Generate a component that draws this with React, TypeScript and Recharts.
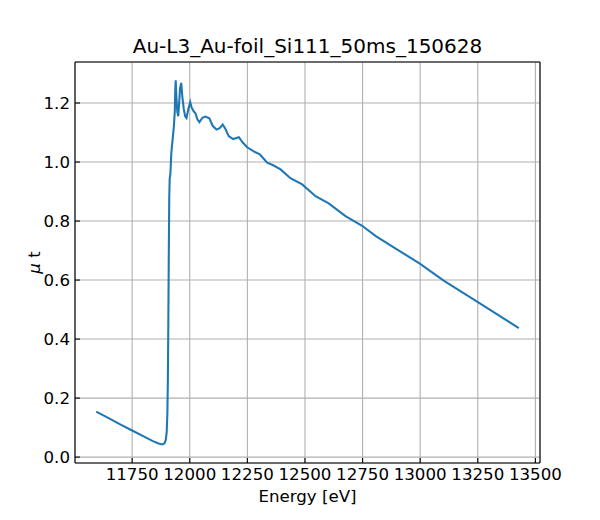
import { CartesianGrid, Line, LineChart, XAxis, YAxis } from "recharts";

const TITLE = "Au-L3_Au-foil_Si111_50ms_150628";

const energy = [
  11594, 11650, 11700, 11750, 11800, 11840, 11865, 11880, 11890, 11896, 11900, 11903, 11905, 11907,
  11909, 11911, 11913, 11916, 11920, 11926, 11931, 11935, 11937, 11939, 11942, 11946, 11950, 11954,
  11958, 11963, 11968, 11974, 11980, 11986, 11994, 12002, 12008, 12017, 12025, 12033, 12042, 12055,
  12068, 12085, 12100, 12116, 12130, 12143, 12155, 12169, 12188, 12213, 12230, 12249, 12278, 12304,
  12320, 12336, 12360, 12394, 12437, 12488, 12546, 12603, 12676, 12748, 12806, 12885, 13000, 13102,
  13247, 13428,
];

const mu = [
  0.154, 0.131, 0.11, 0.09, 0.07, 0.054, 0.046, 0.043, 0.046, 0.058, 0.085, 0.15, 0.26, 0.45,
  0.68, 0.88, 0.945, 0.96, 1.03, 1.08, 1.12, 1.17, 1.24, 1.277, 1.22, 1.17, 1.155, 1.2,
  1.25, 1.268, 1.22, 1.18, 1.155, 1.149, 1.18, 1.203, 1.185, 1.172, 1.165, 1.145, 1.135, 1.15,
  1.154, 1.148, 1.122, 1.11, 1.115, 1.127, 1.112, 1.088, 1.078, 1.084, 1.066, 1.05, 1.036, 1.026,
  1.012, 0.998, 0.99, 0.975, 0.945, 0.924, 0.884, 0.86, 0.817, 0.784, 0.75, 0.711, 0.655, 0.598,
  0.527, 0.437,
];

const xTicks = [11750, 12000, 12250, 12500, 12750, 13000, 13250, 13500];
const yTicks = [0, 0.2, 0.4, 0.6, 0.8, 1.0, 1.2];

const X_DOMAIN: [number, number] = [11502, 13520];
const Y_DOMAIN: [number, number] = [-0.02, 1.339];

const LINE_COLOR = "#1f77b4";
const FONT = "'DejaVu Sans', sans-serif";
const SPINE = { stroke: "#000", strokeWidth: 1.1 };
const tickStyle = { fontSize: 16.67, fill: "#000", fontFamily: FONT };

const data = energy.map((e, i) => ({ energy: e, mu: mu[i] }));

function YLabel({ viewBox }: { viewBox?: { x: number; y: number; width: number; height: number } }) {
  if (!viewBox) return null;
  const cx = viewBox.x + 24;
  const cy = viewBox.y + viewBox.height / 2;
  return (
    <text
      x={cx}
      y={cy}
      transform={`rotate(-90, ${cx}, ${cy})`}
      textAnchor="middle"
      dominantBaseline="central"
      fontSize={16.67}
      fontFamily={FONT}
      fill="#000"
    >
      <tspan fontStyle="italic">μ</tspan> t
    </text>
  );
}

export default function App() {
  return (
    <div style={{ position: "absolute", left: 0, top: 0, width: 600, height: 520, background: "#fff" }}>
      <LineChart
        width={600}
        height={520}
        data={data}
        margin={{ top: 61, right: 59, bottom: 27, left: 10 }}
      >
        <CartesianGrid stroke="#b0b0b0" strokeWidth={1.1} />
        <XAxis
          dataKey="energy"
          type="number"
          domain={X_DOMAIN}
          ticks={xTicks}
          allowDataOverflow
          height={30}
          tickSize={-5}
          tickMargin={10}
          tick={tickStyle}
          axisLine={SPINE}
          tickLine={SPINE}
          label={{ value: "Energy [eV]", position: "bottom", offset: -3, fontSize: 16.67, fontFamily: FONT, fill: "#000" }}
        />
        <XAxis
          xAxisId="top"
          dataKey="energy"
          orientation="top"
          type="number"
          domain={X_DOMAIN}
          ticks={xTicks}
          allowDataOverflow
          height={1}
          tick={false}
          tickLine={false}
          axisLine={SPINE}
          label={{ value: TITLE, position: "top", offset: 8, fontSize: 20, fontFamily: FONT, fill: "#000" }}
        />
        <YAxis
          type="number"
          domain={Y_DOMAIN}
          ticks={yTicks}
          allowDataOverflow
          width={65}
          tickSize={-5}
          tickMargin={10}
          tick={tickStyle}
          tickFormatter={(v: number) => v.toFixed(1)}
          axisLine={SPINE}
          tickLine={SPINE}
          label={<YLabel />}
        />
        <YAxis
          yAxisId="right"
          orientation="right"
          type="number"
          domain={Y_DOMAIN}
          ticks={yTicks}
          allowDataOverflow
          width={1}
          tick={false}
          tickLine={false}
          axisLine={SPINE}
        />
        <Line
          xAxisId="top"
          yAxisId="right"
          type="linear"
          dataKey="mu"
          stroke="none"
          dot={false}
          activeDot={false}
          legendType="none"
          isAnimationActive={false}
        />
        <Line
          type="linear"
          dataKey="mu"
          stroke={LINE_COLOR}
          strokeWidth={2.08}
          dot={false}
          activeDot={false}
          isAnimationActive={false}
        />
      </LineChart>
    </div>
  );
}
